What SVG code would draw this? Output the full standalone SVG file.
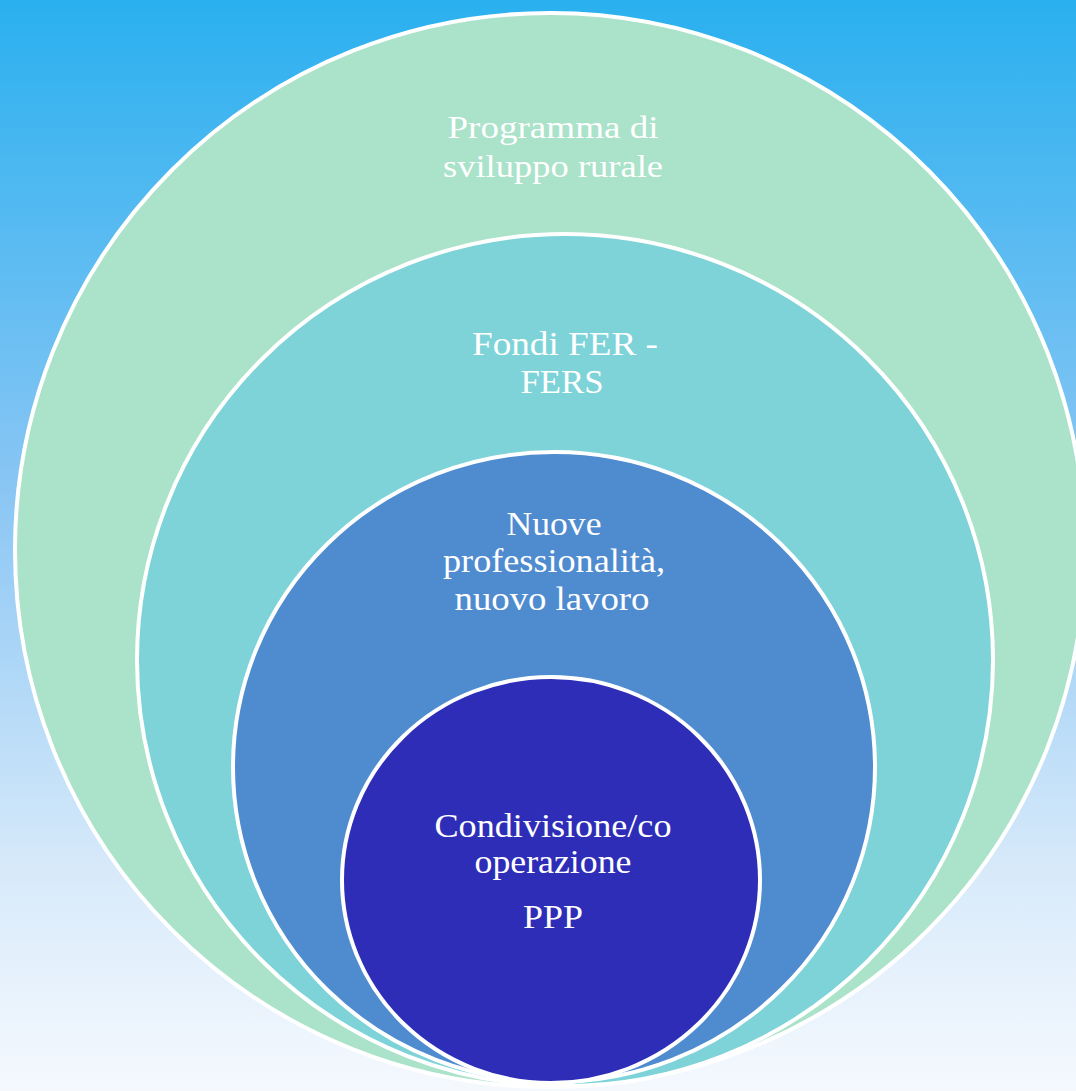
<svg xmlns="http://www.w3.org/2000/svg" width="1076" height="1091" viewBox="0 0 1076 1091">
  <defs>
    <linearGradient id="bg" x1="0" y1="0" x2="0" y2="1">
      <stop offset="0" stop-color="#2ab0ef"/>
      <stop offset="0.45" stop-color="#8ac6f4"/>
      <stop offset="0.8" stop-color="#d8eafa"/>
      <stop offset="1" stop-color="#f5f9fe"/>
    </linearGradient>
    <style>
      .ring { stroke: #ffffff; stroke-width: 4; }
      .lbl { font-family: "Liberation Serif", "Times New Roman", serif; fill: #ffffff; text-anchor: middle; }
    </style>
  </defs>
  <rect x="0" y="0" width="1076" height="1091" fill="url(#bg)"/>
  <g id="connectors"/>
  <g id="node-programma">
    <ellipse class="ring" cx="550" cy="550" rx="535" ry="537" fill="#abe2ca"/>
    <text class="lbl" x="553" y="138" font-size="31" textLength="211" lengthAdjust="spacingAndGlyphs">Programma di</text>
    <text class="lbl" x="553" y="177" font-size="31" textLength="220" lengthAdjust="spacingAndGlyphs">sviluppo rurale</text>
  </g>
  <g id="node-fondi">
    <ellipse class="ring" cx="565" cy="660" rx="428" ry="426" fill="#7dd3d8"/>
    <text class="lbl" x="565" y="355" font-size="33" textLength="186" lengthAdjust="spacingAndGlyphs">Fondi FER -</text>
    <text class="lbl" x="562" y="393" font-size="33" textLength="83" lengthAdjust="spacingAndGlyphs">FERS</text>
  </g>
  <g id="node-nuove">
    <ellipse class="ring" cx="554" cy="767" rx="321" ry="315" fill="#4f8bcf"/>
    <text class="lbl" x="554" y="535" font-size="33" textLength="95" lengthAdjust="spacingAndGlyphs">Nuove</text>
    <text class="lbl" x="554" y="572" font-size="33" textLength="222" lengthAdjust="spacingAndGlyphs">professionalità,</text>
    <text class="lbl" x="552" y="610" font-size="33" textLength="195" lengthAdjust="spacingAndGlyphs">nuovo lavoro</text>
  </g>
  <g id="node-condivisione">
    <ellipse class="ring" cx="551" cy="880" rx="209" ry="203" fill="#2e2db8"/>
    <text class="lbl" x="553" y="837" font-size="34" textLength="237" lengthAdjust="spacingAndGlyphs">Condivisione/co</text>
    <text class="lbl" x="553" y="873" font-size="34" textLength="157" lengthAdjust="spacingAndGlyphs">operazione</text>
    <text class="lbl" x="553" y="928" font-size="34" textLength="60" lengthAdjust="spacingAndGlyphs">PPP</text>
  </g>
</svg>
